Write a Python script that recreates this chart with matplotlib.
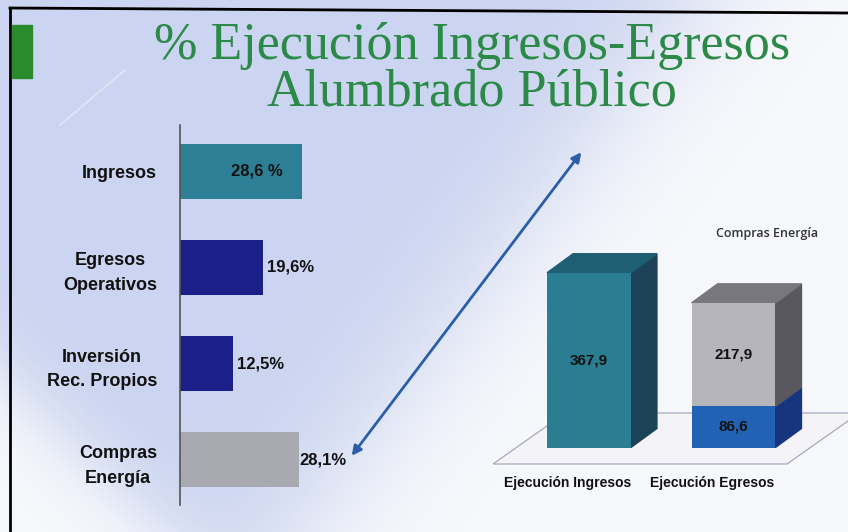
import numpy as np
import matplotlib
matplotlib.use("Agg")
import matplotlib.pyplot as plt
from matplotlib.patches import Polygon, Rectangle

plt.rcParams['font.family'] = ['Liberation Sans', 'DejaVu Sans']

# Datos del gráfico izquierdo (% ejecución)
cat_left = ['Ingresos', 'Egresos\nOperativos', 'Inversión\nRec. Propios', 'Compras\nEnergía']
pct_left = [28.6, 19.6, 12.5, 28.1]
pct_labels = ['28,6 %', '19,6%', '12,5%', '28,1%']
col_left = ['#2d7f96', '#1b1f88', '#1b1f88', '#a9a9b1']

# Datos del gráfico derecho (ejecución, valores absolutos)
ejec_cats = ['Ejecución Ingresos', 'Ejecución Egresos']
ejec_base = [367.9, 86.6]
ejec_compras = [0.0, 217.9]
base_labels = ['367,9', '86,6']
compras_labels = ['', '217,9']
legend_text = 'Compras Energía'

W, H = 848, 532
fig = plt.figure(figsize=(W / 100, H / 100), dpi=100)

# Fondo de la diapositiva
bg = fig.add_axes([0, 0, 1, 1])
bg.set_xlim(0, W)
bg.set_ylim(H, 0)
bg.axis('off')
yy, xx = np.mgrid[0:H, 0:W]
t1 = 1 / (1 + np.exp(-(694 - (xx + 0.744 * yy)) / 45))
t2 = 1 / (1 + np.exp(-(375 + 0.97 * xx - yy) / 30))
t = t1 * t2
blue = np.array([203, 212, 240]) / 255
white = np.array([248, 249, 252]) / 255
img = white[None, None, :] + t[..., None] * (blue - white)[None, None, :]
bg.imshow(img, extent=(0, W, H, 0), aspect='auto', zorder=0)

# marco y rectángulo verde
bg.plot([10, W], [8, 13], color='black', lw=2, zorder=1)
bg.plot([10, 10], [8, H], color='black', lw=2, zorder=1)
bg.add_patch(Rectangle((12, 25), 20, 53, color='#2a8a2c', zorder=1))
bg.plot([60, 125], [125, 70], color='white', lw=1.5, alpha=0.35, zorder=1)

# título
bg.text(472, 59, '% Ejecución Ingresos-Egresos', ha='center', va='baseline',
        fontsize=37.5, family='Liberation Serif', color='#2b8a47', zorder=2)
bg.text(472, 105, 'Alumbrado Público', ha='center', va='baseline',
        fontsize=37.5, family='Liberation Serif', color='#2b8a47', zorder=2)

# flecha doble
bg.annotate('', xy=(583, 150), xytext=(350, 458),
            arrowprops=dict(arrowstyle='<|-|>', color='#2a5ea8', lw=2, mutation_scale=14),
            zorder=2)

bg.text(767, 233, legend_text, ha='center', va='center', fontsize=9,
        fontweight='semibold', family='Open Sans', color='#333333')

# ---- Gráfico izquierdo ----
ax1 = fig.add_axes([180 / W, (H - 505) / H, 260 / W, 380 / H])
ax1.patch.set_visible(False)
ypos = np.arange(len(cat_left))
ax1.barh(ypos, pct_left, height=0.57, color=col_left)
ax1.set_xlim(0, 260 / 4.25)
ax1.set_ylim(3.47, -0.48)
ax1.set_xticks([])
ax1.set_yticks(ypos)
ax1.set_yticklabels(cat_left, multialignment='center', fontsize=13,
                    fontweight='bold', color='#111111', linespacing=1.6)
ax1.tick_params(axis='y', length=0, pad=16.5)
for s in ['top', 'right', 'bottom']:
    ax1.spines[s].set_visible(False)
ax1.spines['left'].set_color('#555555')
ax1.spines['left'].set_linewidth(1.2)

for i, (v, lab) in enumerate(zip(pct_left, pct_labels)):
    if i == 0:
        ax1.text(v - 4.4, i, lab, ha='right', va='center', fontsize=12,
                 fontweight='bold', color='#111111')
    else:
        off = 0 if i == 3 else 3
        ax1.annotate(lab, (v, i), xytext=(off, 0), textcoords='offset points',
                     ha='left', va='center', fontsize=12, fontweight='bold',
                     color='#111111')

# ---- Gráfico derecho (barras 3D) ----
ax2 = fig.add_axes([480 / W, 32 / H, 368 / W, 300 / H])
ax2.patch.set_visible(False)
ax2.axis('off')
ax2.set_xlim(-0.754, 1.792)
ax2.set_ylim(-110.5, 521)

xpos = np.arange(len(ejec_cats))
bw = 0.58
dx, dy = 0.18, 40

# piso
fl, fr = xpos[0] - 0.664, xpos[-1] + 0.37
floor = Polygon([(fl, -34.7), (fr, -34.7), (fr + 0.5, 72.6), (fl + 0.5, 72.6)],
                closed=True, facecolor='#f4f4f8', edgecolor='#a8a8c0', lw=0.9, zorder=1)
ax2.add_patch(floor)

base_front = ['#2b7d91', '#2162b5']
base_side = ['#1b4257', '#17357f']
base_top = ['#1e5f74', '#1a4a95']
comp_front, comp_side, comp_top = '#b5b5bb', '#58585e', '#77777d'


def box(ax, x, b, h, front, side, top=None):
    r = x + bw / 2
    ax.bar(x, h, bottom=b, width=bw, color=front, zorder=4)
    ax.add_patch(Polygon([(r, b), (r + dx, b + dy), (r + dx, b + h + dy), (r, b + h)],
                         closed=True, color=side, zorder=3))
    if top is not None:
        ax.add_patch(Polygon([(x - bw / 2, b + h), (r, b + h), (r + dx, b + h + dy),
                              (x - bw / 2 + dx, b + h + dy)],
                             closed=True, color=top, zorder=3))


for i, x in enumerate(xpos):
    has_top = ejec_compras[i] > 0
    box(ax2, x, 0, ejec_base[i], base_front[i], base_side[i],
        None if has_top else base_top[i])
    ax2.text(x, ejec_base[i] / 2, base_labels[i], ha='center', va='center',
             fontsize=11, fontweight='bold', color='#111111', zorder=5)
    if has_top:
        box(ax2, x, ejec_base[i], ejec_compras[i], comp_front, comp_side, comp_top)
        ax2.text(x, ejec_base[i] + ejec_compras[i] / 2, compras_labels[i],
                 ha='center', va='center', fontsize=11, fontweight='bold',
                 color='#111111', zorder=5)
    ax2.text(x - 0.15, -75, ejec_cats[i], ha='center', va='center', fontsize=10,
             fontweight='bold', color='#111111')

fig.savefig('out.png', dpi=100)
